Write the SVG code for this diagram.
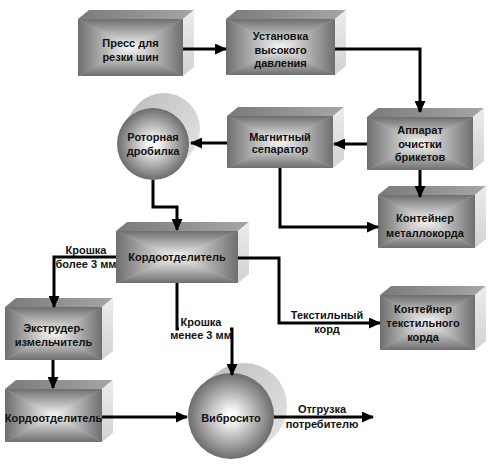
<svg xmlns="http://www.w3.org/2000/svg" width="488" height="467" viewBox="0 0 488 467">
<defs>
<linearGradient id="gT" x1="0" y1="0" x2="0" y2="1"><stop offset="0" stop-color="#6e6e6e"/><stop offset="1" stop-color="#f8f8f8"/></linearGradient>
<linearGradient id="gB" x1="0" y1="1" x2="0" y2="0"><stop offset="0" stop-color="#6e6e6e"/><stop offset="1" stop-color="#f8f8f8"/></linearGradient>
<linearGradient id="gL" x1="0" y1="0" x2="1" y2="0"><stop offset="0" stop-color="#6e6e6e"/><stop offset="1" stop-color="#f8f8f8"/></linearGradient>
<linearGradient id="gR" x1="1" y1="0" x2="0" y2="0"><stop offset="0" stop-color="#6e6e6e"/><stop offset="1" stop-color="#f8f8f8"/></linearGradient>
<linearGradient id="gTop" x1="0" y1="0" x2="1" y2="0"><stop offset="0" stop-color="#7a7a7a"/><stop offset="1" stop-color="#a6a6a6"/></linearGradient>
<linearGradient id="gSide" x1="0" y1="0" x2="0" y2="1"><stop offset="0" stop-color="#ececec"/><stop offset="1" stop-color="#d2d2d2"/></linearGradient>
<linearGradient id="gCyl" x1="0" y1="0" x2="1" y2="1"><stop offset="0" stop-color="#bdbdbd"/><stop offset="1" stop-color="#e6e6e6"/></linearGradient>
<radialGradient id="gBall" cx="0.5" cy="0.5" r="0.5"><stop offset="0" stop-color="#ffffff"/><stop offset="0.15" stop-color="#f6f6f6"/><stop offset="1" stop-color="#6c6c6c"/></radialGradient>
<marker id="ah" markerUnits="userSpaceOnUse" markerWidth="12" markerHeight="11" refX="11" refY="5.5" orient="auto"><path d="M0,0 L12,5.5 L0,11 z" fill="#000"/></marker>
</defs>
<style>
.base{fill:#b4b4b4}
.tp{fill:url(#gTop)}
.sd{fill:url(#gSide)}
.t{fill:url(#gT)}
.b{fill:url(#gB)}
.l{fill:url(#gL)}
.r{fill:url(#gR)}
.cyl{fill:url(#gCyl)}
.ball{fill:url(#gBall)}
text{font-family:"Liberation Sans",Arial,sans-serif;font-weight:bold;font-size:11px;fill:#111;text-anchor:middle}
.c{fill:none;stroke:#000;stroke-width:3;marker-end:url(#ah)}
</style>

<g id="press">
<polygon class="tp" points="78,19 183,19 194,10 89,10"/>
<polygon class="sd" points="183,19 194,10 194,67 183,76"/>
<rect class="base" x="78" y="19" width="105" height="57"/>
<polygon class="t" points="78,19 183,19 130.5,47.5"/>
<polygon class="b" points="78,76 183,76 130.5,47.5"/>
<polygon class="l" points="78,19 78,76 130.5,47.5"/>
<polygon class="r" points="183,19 183,76 130.5,47.5"/>
<text x="130.5" y="47">Пресс для</text>
<text x="130.5" y="61">резки шин</text>
</g>

<g id="ustanovka">
<polygon class="tp" points="226,19 335,19 346,10 237,10"/>
<polygon class="sd" points="335,19 346,10 346,66 335,75"/>
<rect class="base" x="226" y="19" width="109" height="56"/>
<polygon class="t" points="226,19 335,19 280.5,47"/>
<polygon class="b" points="226,75 335,75 280.5,47"/>
<polygon class="l" points="226,19 226,75 280.5,47"/>
<polygon class="r" points="335,19 335,75 280.5,47"/>
<text x="280.5" y="40">Установка</text>
<text x="280.5" y="54">высокого</text>
<text x="280.5" y="67">давления</text>
</g>

<g id="magnit">
<polygon class="tp" points="227,116 333,116 344,107 238,107"/>
<polygon class="sd" points="333,116 344,107 344,159 333,168"/>
<rect class="base" x="227" y="116" width="106" height="52"/>
<polygon class="t" points="227,116 333,116 280,142"/>
<polygon class="b" points="227,168 333,168 280,142"/>
<polygon class="l" points="227,116 227,168 280,142"/>
<polygon class="r" points="333,116 333,168 280,142"/>
<text x="280" y="141">Магнитный</text>
<text x="280" y="153">сепаратор</text>
</g>

<g id="apparat">
<polygon class="tp" points="367,117 473,117 484,108 378,108"/>
<polygon class="sd" points="473,117 484,108 484,161 473,170"/>
<rect class="base" x="367" y="117" width="106" height="53"/>
<polygon class="t" points="367,117 473,117 420,143.5"/>
<polygon class="b" points="367,170 473,170 420,143.5"/>
<polygon class="l" points="367,117 367,170 420,143.5"/>
<polygon class="r" points="473,117 473,170 420,143.5"/>
<text x="420" y="134">Аппарат</text>
<text x="420" y="147.5">очистки</text>
<text x="420" y="161">брикетов</text>
</g>

<g id="metall">
<polygon class="tp" points="378,195 475,195 486,186 389,186"/>
<polygon class="sd" points="475,195 486,186 486,239 475,248"/>
<rect class="base" x="378" y="195" width="97" height="53"/>
<polygon class="t" points="378,195 475,195 426.5,221.5"/>
<polygon class="b" points="378,248 475,248 426.5,221.5"/>
<polygon class="l" points="378,195 378,248 426.5,221.5"/>
<polygon class="r" points="475,195 475,248 426.5,221.5"/>
<text x="425" y="222">Контейнер</text>
<text x="425" y="237">металлокорда</text>
</g>

<g id="textil">
<polygon class="tp" points="380,295 475,295 486,286 391,286"/>
<polygon class="sd" points="475,295 486,286 486,341 475,350"/>
<rect class="base" x="380" y="295" width="95" height="55"/>
<polygon class="t" points="380,295 475,295 427.5,322.5"/>
<polygon class="b" points="380,350 475,350 427.5,322.5"/>
<polygon class="l" points="380,295 380,350 427.5,322.5"/>
<polygon class="r" points="475,295 475,350 427.5,322.5"/>
<text x="423" y="313">Контейнер</text>
<text x="423" y="327">текстильного</text>
<text x="423" y="341">корда</text>
</g>

<g id="kord1">
<polygon class="tp" points="116,231 238,231 249,222 127,222"/>
<polygon class="sd" points="238,231 249,222 249,274 238,283"/>
<rect class="base" x="116" y="231" width="122" height="52"/>
<polygon class="t" points="116,231 238,231 177,257"/>
<polygon class="b" points="116,283 238,283 177,257"/>
<polygon class="l" points="116,231 116,283 177,257"/>
<polygon class="r" points="238,231 238,283 177,257"/>
<text x="177" y="261">Кордоотделитель</text>
</g>

<g id="extruder">
<polygon class="tp" points="5,307 102,307 113,298 16,298"/>
<polygon class="sd" points="102,307 113,298 113,351 102,360"/>
<rect class="base" x="5" y="307" width="97" height="53"/>
<polygon class="t" points="5,307 102,307 53.5,333.5"/>
<polygon class="b" points="5,360 102,360 53.5,333.5"/>
<polygon class="l" points="5,307 5,360 53.5,333.5"/>
<polygon class="r" points="102,307 102,360 53.5,333.5"/>
<text x="53.5" y="332">Экструдер-</text>
<text x="53.5" y="346">измельчитель</text>
</g>

<g id="kord2">
<polygon class="tp" points="5,389 102,389 113,380 16,380"/>
<polygon class="sd" points="102,389 113,380 113,433 102,442"/>
<rect class="base" x="5" y="389" width="97" height="53"/>
<polygon class="t" points="5,389 102,389 53.5,415.5"/>
<polygon class="b" points="5,442 102,442 53.5,415.5"/>
<polygon class="l" points="5,389 5,442 53.5,415.5"/>
<polygon class="r" points="102,389 102,442 53.5,415.5"/>
<text x="53.5" y="422">Кордоотделитель</text>
</g>

<g id="drobilka">
<circle class="cyl" cx="164" cy="129" r="36"/>
<polygon class="cyl" points="124,122.7 135,107.7 193,150.3 182,165.3"/>
<circle class="ball" cx="153" cy="144" r="36"/>
<text x="153" y="141">Роторная</text>
<text x="153" y="155">дробилка</text>
</g>

<g id="vibrosito">
<circle class="cyl" cx="244" cy="406" r="43"/>
<polygon class="cyl" points="204.8,381.9 217.8,371.9 270.2,440.1 257.2,450.1"/>
<circle class="ball" cx="231" cy="416" r="43"/>
<text x="231" y="422">Вибросито</text>
</g>

<g id="connectors">
<path class="c" d="M183,49 H226"/>
<path class="c" d="M335,49 H420 V112"/>
<path class="c" d="M367,144 H334"/>
<path class="c" d="M420,170 V197"/>
<path class="c" d="M280,168 V227 H378"/>
<path class="c" d="M227,143 H191"/>
<path class="c" d="M153,180 V207 H177 V230"/>
<path class="c" d="M116,257 H54 V307"/>
<path class="c" d="M238,258 H279 V323 H380"/>
<path class="c" d="M177,283 V329 H232 V375"/>
<path class="c" d="M53,360 V388"/>
<path class="c" d="M102,417 H187"/>
<path class="c" d="M274,417 H373"/>
</g>

<g id="labels">
<text x="86" y="254">Крошка</text>
<text x="86" y="268">более 3 мм</text>
<rect x="179" y="316" width="51" height="24" fill="#fff"/>
<text x="201" y="326">Крошка</text>
<text x="201" y="339">менее 3 мм</text>
<text x="327" y="319">Текстильный</text>
<text x="327" y="333">корд</text>
<text x="322" y="413">Отгрузка</text>
<text x="322" y="428">потребителю</text>
</g>
</svg>
